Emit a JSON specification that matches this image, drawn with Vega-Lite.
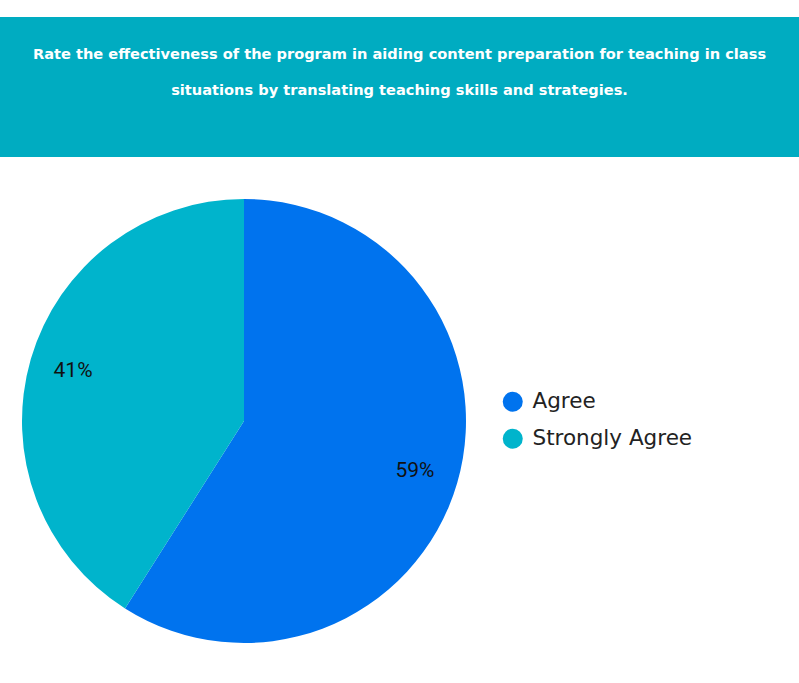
{
  "$schema": "https://vega.github.io/schema/vega-lite/v6.json",
  "background": "white",
  "padding": {"top": 17, "left": 0, "right": 0, "bottom": 0},
  "spacing": 0,
  "config": {"view": {"stroke": null}},
  "resolve": {"legend": {"color": "independent"}},
  "vconcat": [
    {
      "width": 799,
      "height": 140,
      "view": {"fill": "#00ACC1", "stroke": null},
      "data": {"values": [
        {"line": 1, "text": "Rate the effectiveness of the program in aiding content preparation for teaching in class"},
        {"line": 2, "text": "situations by translating teaching skills and strategies."}
      ]},
      "mark": {"type": "text", "color": "white", "font": "DejaVu Sans", "fontWeight": "bold", "fontSize": 14.6, "align": "center", "baseline": "middle"},
      "encoding": {
        "y": {"field": "line", "type": "ordinal", "axis": null, "scale": {"type": "point", "range": [38, 74], "padding": 0}},
        "text": {"field": "text"}
      }
    },
    {
      "width": 488,
      "height": 528,
      "data": {"values": [
        {"response": "Agree", "share": 0.59},
        {"response": "Strongly Agree", "share": 0.41}
      ]},
      "encoding": {
        "theta": {"field": "share", "type": "quantitative", "stack": true},
        "order": {"field": "response", "sort": "ascending"}
      },
      "layer": [
        {
          "mark": {"type": "arc", "outerRadius": 222},
          "encoding": {
            "color": {
              "field": "response", "type": "nominal",
              "scale": {"domain": ["Agree", "Strongly Agree"], "range": ["#0073EE", "#00B4CC"]},
              "legend": {
                "title": null, "orient": "none", "legendX": 502, "legendY": 234,
                "symbolType": "circle", "symbolSize": 400, "symbolStrokeWidth": 0,
                "labelFont": "DejaVu Sans", "labelFontSize": 21.5, "labelColor": "#222222",
                "labelLimit": 300,
                "rowPadding": 14, "labelOffset": 9, "padding": 0
              }
            }
          }
        },
        {
          "mark": {"type": "text", "radius": 178, "font": "Roboto", "fontSize": 21, "color": "#111111"},
          "encoding": {
            "text": {"field": "share", "type": "quantitative", "format": ".0%"}
          }
        }
      ]
    }
  ]
}
